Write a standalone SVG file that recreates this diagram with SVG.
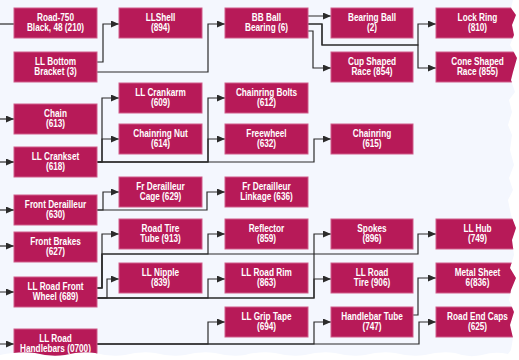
<svg xmlns="http://www.w3.org/2000/svg" width="519" height="360" viewBox="0 0 519 360">
<style>
.bg{fill:#f4f7fe}
.n rect{fill:#b71a58;stroke:#cf5d89;stroke-width:1}
.n text{fill:#ffffff;font-family:"Liberation Sans",Arial,sans-serif;font-weight:bold;font-size:10.3px;text-anchor:middle}
.c path{fill:none;stroke:#2b2b2b;stroke-width:1.2}
.c path.a{marker-end:url(#arr)}
</style>
<defs>
<marker id="arr" markerUnits="userSpaceOnUse" markerWidth="9" markerHeight="8" refX="8" refY="3.5" orient="auto">
<path d="M0,0 L8,3.5 L0,7 z" fill="#2b2b2b"/>
</marker>
<clipPath id="torn">
<path d="M0,0 H513 L511,8 L516,15 L512,25 L514,35 L510,45 L517,58 L513,72 L511,80 L515,92 L509,100 L512,112 L508,125 L512,135 L510,150 L514,165 L509,178 L513,190 L508,200 L511,215 L516,228 L512,240 L514,255 L510,268 L516,278 L511,290 L509,300 L514,312 L510,325 L513,338 L511,350 L508,354 Q495,351 482,355 Q468,358 455,353 Q440,351 425,355 Q410,357 395,353 Q380,351 365,355 Q350,357 335,353 Q320,351 305,355 Q290,357 275,353 Q260,351 245,355 Q230,357 215,353 Q200,351 185,355 Q170,357 155,353 Q140,351 125,355 Q110,357 95,353 Q80,351 65,355 Q50,357 35,353 Q20,351 0,355 Z"/>
</clipPath>
</defs>
<rect width="519" height="360" fill="#ffffff"/>
<g clip-path="url(#torn)">
<rect class="bg" width="519" height="360"/>
<g id="connectors" class="c">
<path d="M0,24 H14"/>
<path class="a" d="M97,62 H103 V24 H119"/>
<path class="a" d="M97,72 H208 V24 H225"/>
<path class="a" d="M308,16 H331"/>
<path class="a" d="M308,24 H322 V45 H418 V24 H436"/>
<path class="a" d="M308,24 H322 V45 H418 V68 H436"/>
<path class="a" d="M308,31 H313 V68 H331"/>
<path class="a" d="M0,119 H14"/>
<path class="a" d="M0,162 H14"/>
<path class="a" d="M97,162 H102 V98 H119"/>
<path class="a" d="M97,162 H102 V139 H119"/>
<path class="a" d="M97,162 H208 V98 H225"/>
<path class="a" d="M97,162 H208 V139 H225"/>
<path class="a" d="M97,162 H314 V139 H331"/>
<path class="a" d="M0,210 H14"/>
<path class="a" d="M97,210 H103 V192 H119"/>
<path class="a" d="M97,210 H207 V192 H225"/>
<path class="a" d="M0,246 H14"/>
<path class="a" d="M0,292 H14"/>
<path class="a" d="M97,288 H102 V234 H119"/>
<path class="a" d="M97,288 H102 V254 H208 V234 H225"/>
<path class="a" d="M97,288 H102 V254 H418 V234 H436"/>
<path class="a" d="M97,298 H107 V279 H119"/>
<path class="a" d="M97,298 H208 V279 H225"/>
<path class="a" d="M97,298 H314 V234 H331"/>
<path class="a" d="M97,298 H314 V279 H331"/>
<path class="a" d="M0,344 H14"/>
<path class="a" d="M97,344 H208 V322 H225"/>
<path class="a" d="M97,344 H314 V322 H331"/>
<path class="a" d="M97,344 H419 V322 H436"/>
<path class="a" d="M413,315 H418 V278 H436"/>
</g>
<g id="road750" class="n"><rect x="14" y="8" width="83" height="30"/><g transform="translate(55.5 0) scale(0.8 1)"><text x="0" y="21.5">Road-750</text><text x="0" y="31.5">Black, 48 (210)</text></g></g>
<g id="llbottombracket" class="n"><rect x="14" y="52" width="83" height="30"/><g transform="translate(55.5 0) scale(0.8 1)"><text x="0" y="65.5">LL Bottom</text><text x="0" y="75.5">Bracket (3)</text></g></g>
<g id="chain" class="n"><rect x="14" y="104" width="83" height="30"/><g transform="translate(55.5 0) scale(0.8 1)"><text x="0" y="117.5">Chain</text><text x="0" y="127.5">(613)</text></g></g>
<g id="llcrankset" class="n"><rect x="14" y="147" width="83" height="30"/><g transform="translate(55.5 0) scale(0.8 1)"><text x="0" y="160.5">LL Crankset</text><text x="0" y="170.5">(618)</text></g></g>
<g id="frontderailleur" class="n"><rect x="14" y="195" width="83" height="30"/><g transform="translate(55.5 0) scale(0.8 1)"><text x="0" y="208.5">Front Derailleur</text><text x="0" y="218.5">(630)</text></g></g>
<g id="frontbrakes" class="n"><rect x="14" y="232" width="83" height="30"/><g transform="translate(55.5 0) scale(0.8 1)"><text x="0" y="245.5">Front Brakes</text><text x="0" y="255.5">(627)</text></g></g>
<g id="llroadfrontwheel" class="n"><rect x="14" y="277" width="83" height="30"/><g transform="translate(55.5 0) scale(0.8 1)"><text x="0" y="290.5">LL Road Front</text><text x="0" y="300.5">Wheel (689)</text></g></g>
<g id="llroadhandlebars" class="n"><rect x="14" y="329" width="83" height="30"/><g transform="translate(55.5 0) scale(0.8 1)"><text x="0" y="342.5">LL Road</text><text x="0" y="352.5">Handlebars (0700)</text></g></g>
<g id="llshell" class="n"><rect x="119" y="8" width="83" height="30"/><g transform="translate(160.5 0) scale(0.8 1)"><text x="0" y="21.5">LLShell</text><text x="0" y="31.5">(894)</text></g></g>
<g id="llcrankarm" class="n"><rect x="119" y="83" width="83" height="30"/><g transform="translate(160.5 0) scale(0.8 1)"><text x="0" y="96.5">LL Crankarm</text><text x="0" y="106.5">(609)</text></g></g>
<g id="chainringnut" class="n"><rect x="119" y="124" width="83" height="30"/><g transform="translate(160.5 0) scale(0.8 1)"><text x="0" y="137.5">Chainring Nut</text><text x="0" y="147.5">(614)</text></g></g>
<g id="frderailleurcage" class="n"><rect x="119" y="177" width="83" height="30"/><g transform="translate(160.5 0) scale(0.8 1)"><text x="0" y="190.5">Fr Derailleur</text><text x="0" y="200.5">Cage (629)</text></g></g>
<g id="roadtiretube" class="n"><rect x="119" y="219" width="83" height="30"/><g transform="translate(160.5 0) scale(0.8 1)"><text x="0" y="232.5">Road Tire</text><text x="0" y="242.5">Tube (913)</text></g></g>
<g id="llnipple" class="n"><rect x="119" y="263" width="83" height="30"/><g transform="translate(160.5 0) scale(0.8 1)"><text x="0" y="276.5">LL Nipple</text><text x="0" y="286.5">(839)</text></g></g>
<g id="bbballbearing" class="n"><rect x="225" y="8" width="83" height="30"/><g transform="translate(266.5 0) scale(0.8 1)"><text x="0" y="21.5">BB Ball</text><text x="0" y="31.5">Bearing (6)</text></g></g>
<g id="chainringbolts" class="n"><rect x="225" y="83" width="83" height="30"/><g transform="translate(266.5 0) scale(0.8 1)"><text x="0" y="96.5">Chainring Bolts</text><text x="0" y="106.5">(612)</text></g></g>
<g id="freewheel" class="n"><rect x="225" y="124" width="83" height="30"/><g transform="translate(266.5 0) scale(0.8 1)"><text x="0" y="137.5">Freewheel</text><text x="0" y="147.5">(632)</text></g></g>
<g id="frderailleurlinkage" class="n"><rect x="225" y="177" width="83" height="30"/><g transform="translate(266.5 0) scale(0.8 1)"><text x="0" y="190.5">Fr Derailleur</text><text x="0" y="200.5">Linkage (636)</text></g></g>
<g id="reflector" class="n"><rect x="225" y="219" width="83" height="30"/><g transform="translate(266.5 0) scale(0.8 1)"><text x="0" y="232.5">Reflector</text><text x="0" y="242.5">(859)</text></g></g>
<g id="llroadrim" class="n"><rect x="225" y="263" width="83" height="30"/><g transform="translate(266.5 0) scale(0.8 1)"><text x="0" y="276.5">LL Road Rim</text><text x="0" y="286.5">(863)</text></g></g>
<g id="llgriptape" class="n"><rect x="225" y="307" width="83" height="30"/><g transform="translate(266.5 0) scale(0.8 1)"><text x="0" y="320.5">LL Grip Tape</text><text x="0" y="330.5">(694)</text></g></g>
<g id="bearingball" class="n"><rect x="331" y="8" width="82" height="30"/><g transform="translate(372 0) scale(0.8 1)"><text x="0" y="21.5">Bearing Ball</text><text x="0" y="31.5">(2)</text></g></g>
<g id="cupshapedrace" class="n"><rect x="331" y="52" width="82" height="30"/><g transform="translate(372 0) scale(0.8 1)"><text x="0" y="65.5">Cup Shaped</text><text x="0" y="75.5">Race (854)</text></g></g>
<g id="chainring" class="n"><rect x="331" y="124" width="82" height="30"/><g transform="translate(372 0) scale(0.8 1)"><text x="0" y="137.5">Chainring</text><text x="0" y="147.5">(615)</text></g></g>
<g id="spokes" class="n"><rect x="331" y="219" width="82" height="30"/><g transform="translate(372 0) scale(0.8 1)"><text x="0" y="232.5">Spokes</text><text x="0" y="242.5">(896)</text></g></g>
<g id="llroadtire" class="n"><rect x="331" y="263" width="82" height="30"/><g transform="translate(372 0) scale(0.8 1)"><text x="0" y="276.5">LL Road</text><text x="0" y="286.5">Tire (906)</text></g></g>
<g id="handlebartube" class="n"><rect x="331" y="307" width="82" height="30"/><g transform="translate(372 0) scale(0.8 1)"><text x="0" y="320.5">Handlebar Tube</text><text x="0" y="330.5">(747)</text></g></g>
<g id="lockring" class="n"><rect x="436" y="8" width="83" height="30"/><g transform="translate(477.5 0) scale(0.8 1)"><text x="0" y="21.5">Lock Ring</text><text x="0" y="31.5">(810)</text></g></g>
<g id="coneshapedrace" class="n"><rect x="436" y="52" width="83" height="30"/><g transform="translate(477.5 0) scale(0.8 1)"><text x="0" y="65.5">Cone Shaped</text><text x="0" y="75.5">Race (855)</text></g></g>
<g id="llhub" class="n"><rect x="436" y="219" width="83" height="30"/><g transform="translate(477.5 0) scale(0.8 1)"><text x="0" y="232.5">LL Hub</text><text x="0" y="242.5">(749)</text></g></g>
<g id="metalsheet" class="n"><rect x="436" y="263" width="83" height="30"/><g transform="translate(477.5 0) scale(0.8 1)"><text x="0" y="276.5">Metal Sheet</text><text x="0" y="286.5">6(836)</text></g></g>
<g id="roadendcaps" class="n"><rect x="436" y="307" width="83" height="30"/><g transform="translate(477.5 0) scale(0.8 1)"><text x="0" y="320.5">Road End Caps</text><text x="0" y="330.5">(625)</text></g></g>
</g>
</svg>
